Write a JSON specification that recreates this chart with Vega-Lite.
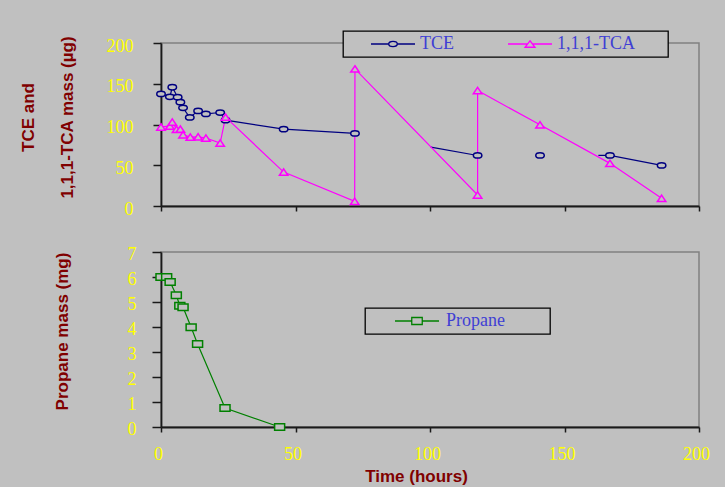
{
  "$schema": "https://vega.github.io/schema/vega-lite/v6.json",
  "autosize": {"type": "none"},
  "padding": {"left": 161, "top": 43, "right": 564, "bottom": 444},
  "background": "#c0c0c0",
  "spacing": 46,
  "bounds": "flush",
  "config": {
    "view": {"stroke": "#808080", "strokeWidth": 1.5},
    "axis": {
      "grid": false,
      "labelFlush": false,
      "domainColor": "#1a1a1a",
      "domainWidth": 1.8,
      "tickColor": "#1a1a1a",
      "tickWidth": 1.5,
      "labelFont": "Liberation Serif",
      "labelFontSize": 18,
      "labelColor": "#ffff00",
      "titleFont": "Liberation Sans",
      "titleFontSize": 17,
      "titleFontWeight": "bold",
      "titleColor": "#800000"
    },
    "legend": {
      "orient": "none",
      "title": null,
      "strokeColor": "#000000",
      "strokeWidth": 1.3,
      "fillColor": "#c0c0c0",
      "padding": 4,
      "symbolSize": 100,
      "symbolStrokeWidth": 1.3,
      "labelFont": "Liberation Serif",
      "labelFontSize": 18,
      "labelColor": "#3f3fd4"
    }
  },
  "resolve": {"scale": {"color": "independent"}, "legend": {"color": "independent"}},
  "vconcat": [
    {
      "width": 538,
      "height": 163,
      "data": {
        "values": [
          {"series": "TCE", "seg": "TCE-a", "idx": 0, "t": 0, "v": 137.5, "marker": true},
          {"series": "TCE", "seg": "TCE-a", "idx": 1, "t": 3.3, "v": 134, "marker": true},
          {"series": "TCE", "seg": "TCE-a", "idx": 2, "t": 4.2, "v": 145.7, "marker": true},
          {"series": "TCE", "seg": "TCE-a", "idx": 3, "t": 6.2, "v": 133.5, "marker": true},
          {"series": "TCE", "seg": "TCE-a", "idx": 4, "t": 7.2, "v": 127.4, "marker": true},
          {"series": "TCE", "seg": "TCE-a", "idx": 5, "t": 8.2, "v": 120.4, "marker": true},
          {"series": "TCE", "seg": "TCE-a", "idx": 6, "t": 10.7, "v": 108.6, "marker": true},
          {"series": "TCE", "seg": "TCE-a", "idx": 7, "t": 13.8, "v": 116.7, "marker": true},
          {"series": "TCE", "seg": "TCE-a", "idx": 8, "t": 16.7, "v": 113, "marker": true},
          {"series": "TCE", "seg": "TCE-a", "idx": 9, "t": 22, "v": 114.7, "marker": true},
          {"series": "TCE", "seg": "TCE-a", "idx": 10, "t": 24, "v": 105.3, "marker": true},
          {"series": "TCE", "seg": "TCE-a", "idx": 11, "t": 45.6, "v": 94.3, "marker": true},
          {"series": "TCE", "seg": "TCE-a", "idx": 12, "t": 72.1, "v": 89, "marker": true},
          {"series": "TCE", "seg": "TCE-b", "idx": 13, "t": 100.3, "v": 72.3, "marker": false},
          {"series": "TCE", "seg": "TCE-b", "idx": 14, "t": 117.7, "v": 62, "marker": true},
          {"series": "TCE", "seg": "TCE-c", "idx": 15, "t": 140.9, "v": 62, "marker": true},
          {"series": "TCE", "seg": "TCE-d", "idx": 16, "t": 162.6, "v": 62, "marker": false},
          {"series": "TCE", "seg": "TCE-d", "idx": 17, "t": 166.9, "v": 62, "marker": true},
          {"series": "TCE", "seg": "TCE-d", "idx": 18, "t": 186.1, "v": 49.8, "marker": true},
          {"series": "1,1,1-TCA", "seg": "TCA", "idx": 0, "t": 0, "v": 97, "marker": true},
          {"series": "1,1,1-TCA", "seg": "TCA", "idx": 1, "t": 3.3, "v": 98, "marker": true},
          {"series": "1,1,1-TCA", "seg": "TCA", "idx": 2, "t": 4.2, "v": 103, "marker": true},
          {"series": "1,1,1-TCA", "seg": "TCA", "idx": 3, "t": 5.8, "v": 94, "marker": true},
          {"series": "1,1,1-TCA", "seg": "TCA", "idx": 4, "t": 7.2, "v": 94.3, "marker": true},
          {"series": "1,1,1-TCA", "seg": "TCA", "idx": 5, "t": 8.2, "v": 87.4, "marker": true},
          {"series": "1,1,1-TCA", "seg": "TCA", "idx": 6, "t": 10.9, "v": 84.5, "marker": true},
          {"series": "1,1,1-TCA", "seg": "TCA", "idx": 7, "t": 13.8, "v": 84.9, "marker": true},
          {"series": "1,1,1-TCA", "seg": "TCA", "idx": 8, "t": 16.7, "v": 83.3, "marker": true},
          {"series": "1,1,1-TCA", "seg": "TCA", "idx": 9, "t": 22, "v": 77.2, "marker": true},
          {"series": "1,1,1-TCA", "seg": "TCA", "idx": 10, "t": 24, "v": 109, "marker": true},
          {"series": "1,1,1-TCA", "seg": "TCA", "idx": 11, "t": 45.6, "v": 41.6, "marker": true},
          {"series": "1,1,1-TCA", "seg": "TCA", "idx": 12, "t": 72, "v": 5.7, "marker": true},
          {"series": "1,1,1-TCA", "seg": "TCA", "idx": 13, "t": 72.1, "v": 168.2, "marker": true},
          {"series": "1,1,1-TCA", "seg": "TCA", "idx": 14, "t": 117.7, "v": 13.5, "marker": true},
          {"series": "1,1,1-TCA", "seg": "TCA", "idx": 15, "t": 117.7, "v": 141.7, "marker": true},
          {"series": "1,1,1-TCA", "seg": "TCA", "idx": 16, "t": 140.9, "v": 99.6, "marker": true},
          {"series": "1,1,1-TCA", "seg": "TCA", "idx": 17, "t": 166.9, "v": 52.3, "marker": true},
          {"series": "1,1,1-TCA", "seg": "TCA", "idx": 18, "t": 186.1, "v": 9.4, "marker": true}
        ]
      },
      "encoding": {
        "x": {
          "field": "t", "type": "quantitative",
          "scale": {"domain": [0, 200]},
          "axis": {"values": [0, 50, 100, 150, 200], "labels": false, "title": null, "tickSize": 5}
        },
        "y": {
          "field": "v", "type": "quantitative",
          "scale": {"domain": [0, 200]},
          "axis": {
            "values": [0, 50, 100, 150, 200], "tickSize": 8, "labelPadding": 20, "labelOffset": 3,
            "title": ["TCE and", "1,1,1-TCA mass (µg)"],
            "titleLineHeight": 39, "titleX": -124, "titleY": 74, "titleAngle": 270,
            "titleBaseline": "bottom", "titleAlign": "center"
          }
        },
        "color": {
          "field": "series", "type": "nominal",
          "scale": {"domain": ["TCE", "1,1,1-TCA"], "range": ["#000080", "#ff00ff"]},
          "legend": {
            "legendX": 182, "legendY": -12, "direction": "horizontal", "columns": 2,
            "columnPadding": 30, "symbolOffset": 37, "labelOffset": 18,
            "encode": {
              "symbols": {
                "update": {
                  "shape": {"signal": "datum.value === 'TCE' ? 'M-4.4,0L-0.85,0M0.85,0L4.4,0M-0.85,0A0.85,0.52,0,1,0,0.85,0A0.85,0.52,0,1,0,-0.85,0Z' : 'M-4.4,0L-0.5,0M0.5,0L4.4,0M0,-0.65L1,0.65L-1,0.65ZM26.1,0'"},
                  "fill": {"value": "#c0c0c0"},
                  "fillOpacity": {"value": 1},
                  "opacity": {"value": 1}
                }
              }
            }
          }
        }
      },
      "layer": [
        {
          "mark": {"type": "line", "strokeWidth": 1.2},
          "encoding": {"detail": {"field": "seg"}, "order": {"field": "idx", "type": "quantitative"}}
        },
        {
          "transform": [{"filter": "datum.marker && datum.series === 'TCE'"}],
          "mark": {"type": "point", "filled": false, "fill": "#c0c0c0", "fillOpacity": 1, "opacity": 1, "strokeWidth": 1.5, "size": 72, "shape": "M-1,0A1,0.62,0,1,0,1,0A1,0.62,0,1,0,-1,0Z"}
        },
        {
          "transform": [{"filter": "datum.marker && datum.series === '1,1,1-TCA'"}],
          "mark": {"type": "point", "filled": false, "fill": "#c0c0c0", "fillOpacity": 1, "opacity": 1, "strokeWidth": 1.5, "size": 72, "shape": "M0,-0.75L1,0.75L-1,0.75Z"}
        }
      ]
    },
    {
      "width": 538,
      "height": 175,
      "data": {
        "values": [
          {"series": "Propane", "t": 0, "v": 6.0},
          {"series": "Propane", "t": 2.1, "v": 6.0},
          {"series": "Propane", "t": 3.4, "v": 5.8},
          {"series": "Propane", "t": 5.7, "v": 5.27},
          {"series": "Propane", "t": 7.0, "v": 4.85},
          {"series": "Propane", "t": 8.2, "v": 4.79},
          {"series": "Propane", "t": 11.2, "v": 3.99},
          {"series": "Propane", "t": 13.6, "v": 3.32},
          {"series": "Propane", "t": 23.8, "v": 0.76},
          {"series": "Propane", "t": 44.1, "v": 0.0}
        ]
      },
      "encoding": {
        "x": {
          "field": "t", "type": "quantitative",
          "scale": {"domain": [0, 200]},
          "axis": {
            "values": [0, 50, 100, 150, 200], "tickSize": 5, "labelPadding": 13, "labelOffset": -3,
            "title": "Time (hours)", "titleX": 255, "titleY": 54, "titleBaseline": "alphabetic", "titleAlign": "center"
          }
        },
        "y": {
          "field": "v", "type": "quantitative",
          "scale": {"domain": [0, 7]},
          "axis": {
            "values": [0, 1, 2, 3, 4, 5, 6, 7], "tickSize": 9, "labelPadding": 16, "labelOffset": 2,
            "title": "Propane mass (mg)", "titleX": -90, "titleY": 79, "titleAngle": 270,
            "titleBaseline": "bottom", "titleAlign": "center"
          }
        },
        "color": {
          "field": "series", "type": "nominal",
          "scale": {"domain": ["Propane"], "range": ["#008000"]},
          "legend": {
            "legendX": 204, "legendY": 56,
            "symbolOffset": 39, "labelOffset": 20,
            "encode": {
              "symbols": {
                "update": {
                  "shape": {"value": "M-4.4,0L-1.05,0M1.05,0L4.4,0M-1.05,-0.7L1.05,-0.7L1.05,0.7L-1.05,0.7ZM25.1,0"},
                  "fill": {"value": "#c0c0c0"},
                  "fillOpacity": {"value": 1},
                  "opacity": {"value": 1}
                }
              }
            }
          }
        }
      },
      "layer": [
        {
          "mark": {"type": "line", "strokeWidth": 1.2},
          "encoding": {}
        },
        {
          "mark": {"type": "point", "filled": false, "fill": "#c0c0c0", "fillOpacity": 1, "opacity": 1, "strokeWidth": 1.5, "size": 100, "shape": "M-1,-0.67L1,-0.67L1,0.67L-1,0.67Z"},
          "encoding": {}
        }
      ]
    }
  ]
}
